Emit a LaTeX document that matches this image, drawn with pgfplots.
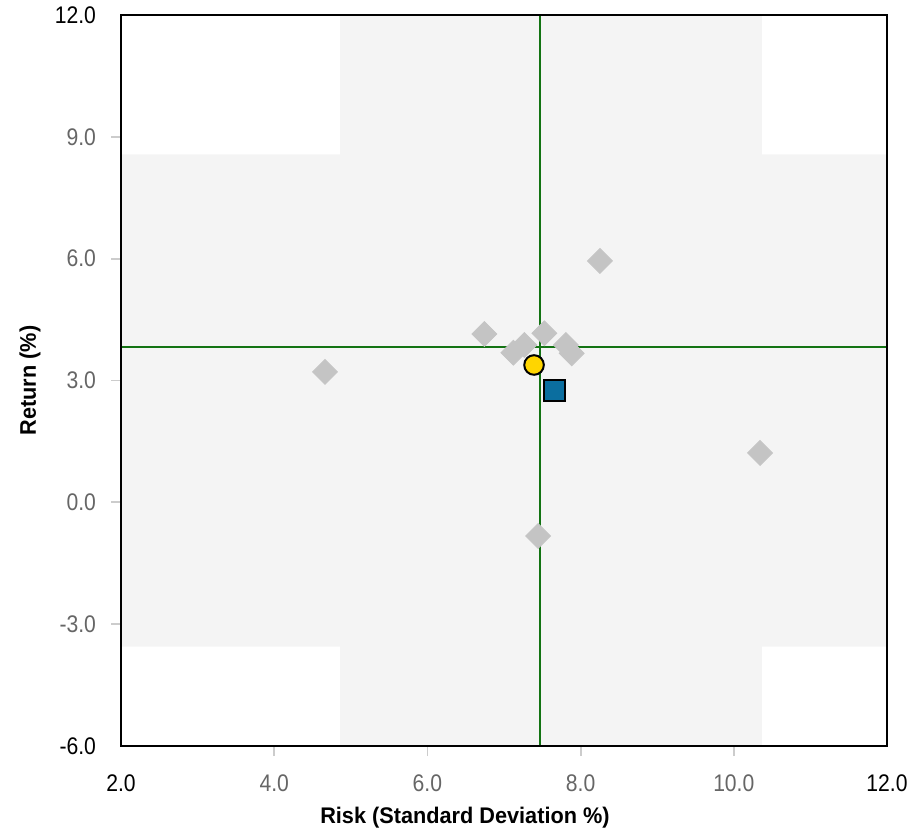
\documentclass[border=0pt]{standalone}
\usepackage{pgfplots}
\pgfplotsset{compat=1.18}
\usepackage{fontspec}
\setmainfont{Liberation Sans}[FakeStretch=0.88]
\newfontfamily\labelfont{Liberation Sans}[FakeStretch=0.96]
\definecolor{bggray}{HTML}{F4F4F4}
\definecolor{ptgray}{HTML}{C4C4C4}
\definecolor{lgreen}{HTML}{137313}
\definecolor{myyellow}{HTML}{FFD500}
\definecolor{myblue}{HTML}{0B6E9F}
\definecolor{tickgray}{HTML}{666666}
\definecolor{tickmark}{HTML}{CCCCCC}
\begin{document}
\begin{tikzpicture}
\begin{axis}[
  name=ax,
  scale only axis,
  width=383pt, height=365.5pt,
  xmin=2, xmax=12, ymin=-6, ymax=12,
  axis on top,
  axis line style={line width=1pt, black},
  tick align=outside,
  xtick pos=bottom, ytick pos=left,
  major tick length=5pt,
  tick style={color=tickmark, line width=0.9pt},
  xtick={4,6,8,10},
  xticklabels={4.0,6.0,8.0,10.0},
  extra x ticks={2,12},
  extra x tick labels={2.0,12.0},
  extra x tick style={major tick length=0pt, xticklabel style={text=black, yshift=-5pt}},
  ytick={-3,0,3,6,9},
  yticklabels={-3.0,0.0,3.0,6.0,9.0},
  extra y ticks={-6,12},
  extra y tick labels={-6.0,12.0},
  extra y tick style={major tick length=0pt, yticklabel style={text=black, xshift=-5pt}},
  ticklabel style={font=\fontsize{12}{14}\selectfont, text=tickgray},
  xticklabel style={yshift=-6pt},
  yticklabel style={xshift=-4pt},
  xlabel={Risk (Standard Deviation \%)},
  ylabel={Return (\%)},
  label style={font=\labelfont\bfseries\fontsize{11.3}{13}\selectfont},
  xlabel style={at={(axis description cs:0.449,-0.0985)}, anchor=center},
  ylabel style={at={(axis description cs:-0.1188,0.5)}, anchor=center, rotate=0},
  clip=false,
]
% background cross-shaped shading
\addplot[fill=bggray, draw=none] coordinates {
  (4.859,-6) (10.368,-6) (10.368,-3.555) (12,-3.555) (12,8.57) (10.368,8.57)
  (10.368,12) (4.859,12) (4.859,8.57) (2,8.57) (2,-3.555) (4.859,-3.555)
} -- cycle;
% peer points
\addplot[only marks, color=ptgray, mark=square*, mark size=4.4pt, mark options={rotate=45, fill=ptgray, draw=none}] coordinates {
  (4.663,3.21) (6.743,4.145) (7.122,3.685) (7.265,3.874) (7.526,4.163)
  (7.809,3.874) (7.884,3.670) (8.253,5.943) (7.444,-0.829) (10.342,1.215)
};
% median lines
\addplot[lgreen, line width=1.1pt] coordinates {(7.47,-6) (7.47,12)};
\addplot[lgreen, line width=1.1pt] coordinates {(2,3.83) (12,3.83)};
% highlighted points
\addplot[only marks, mark=*, mark size=4.9pt, mark options={fill=myyellow, draw=black, line width=1pt}] coordinates {(7.392,3.382)};
\addplot[only marks, mark=square*, mark size=5.1pt, mark options={fill=myblue, draw=black, line width=1pt}] coordinates {(7.657,2.749)};
\end{axis}
\pgfresetboundingbox
\path ([shift={(-60.5pt,-44.5pt)}]ax.south west) rectangle ([shift={(16pt,7.5pt)}]ax.north east);
\end{tikzpicture}
\end{document}
